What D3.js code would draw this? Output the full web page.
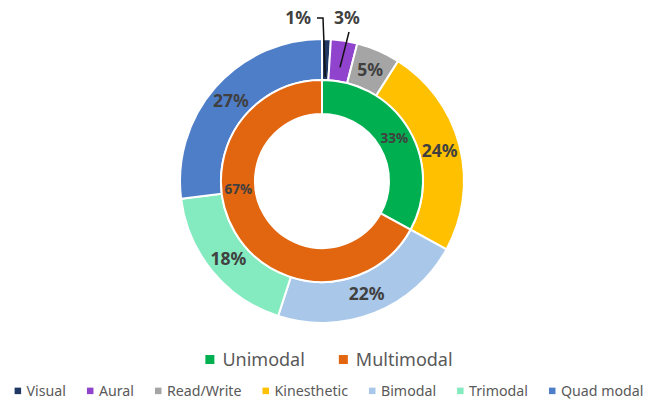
<!DOCTYPE html>
<html>
<head>
<meta charset="utf-8">
<script src="https://cdn.jsdelivr.net/npm/d3@7"></script>
<style>
  html, body { margin: 0; padding: 0; background: #fff; }
  svg { display: block; font-family: "Noto Sans", "Open Sans", sans-serif; }
</style>
</head>
<body>
<svg id="chart" width="653" height="405"></svg>
<script>
// data
const outerNames = ["Visual", "Aural", "Read/Write", "Kinesthetic", "Bimodal", "Trimodal", "Quad modal"];
const outerValues = [1, 3, 5, 24, 22, 18, 27];
const innerNames = ["Unimodal", "Multimodal"];
const innerValues = [33, 67];

const outerColors = ["#1f3864", "#9043cc", "#a5a5a5", "#ffc000", "#a9c8e9", "#84eabf", "#4f7ec9"];
const innerColors = ["#00b050", "#e2650f"];

const width = 653, height = 405;
const cx = 322, cy = 181;
const rOuter = 142, rMid = 101, rInner = 67;
const labelColor = "#404040";
const legendColor = "#595959";

// labels moved by hand in the original (offsets from the centre)
const callouts = {
  Visual: { label: [-11, -157], anchor: "end", leader: [[-5, -163], [1, -163]], endR: 104 },
  Aural: { label: [25, -157], anchor: "middle", leader: [[27, -149]], endR: 115 },
};
const innerLabelTurn = { Multimodal: 0.735 };

const svg = d3.select("#chart");
const g = svg.append("g").attr("transform", `translate(${cx},${cy})`);

const pie = d3.pie().sort(null).value((d) => d.value);
const outerData = pie(outerNames.map((n, i) => ({ name: n, value: outerValues[i], color: outerColors[i] })));
const innerData = pie(innerNames.map((n, i) => ({ name: n, value: innerValues[i], color: innerColors[i] })));

const outerArc = d3.arc().innerRadius(rMid).outerRadius(rOuter);
const innerArc = d3.arc().innerRadius(rInner).outerRadius(rMid);

// rings
g.append("g")
  .selectAll("path")
  .data(outerData)
  .join("path")
  .attr("d", outerArc)
  .attr("fill", (d) => d.data.color)
  .attr("stroke", "#fff")
  .attr("stroke-width", 2);

g.append("g")
  .selectAll("path")
  .data(innerData)
  .join("path")
  .attr("d", innerArc)
  .attr("fill", (d) => d.data.color)
  .attr("stroke", "#fff")
  .attr("stroke-width", 2);

const polar = (r, a) => [r * Math.sin(a), -r * Math.cos(a)];

// outer labels
g.append("g")
  .selectAll("g")
  .data(outerData)
  .join("g")
  .each(function (d) {
    const sel = d3.select(this);
    const c = callouts[d.data.name];
    const mid = (d.startAngle + d.endAngle) / 2;
    if (c) {
      const pts = c.leader.concat([polar(c.endR, mid)]);
      sel.append("path")
        .attr("d", d3.line()(pts))
        .attr("fill", "none")
        .attr("stroke", "#111")
        .attr("stroke-width", 1.5);
      sel.append("text")
        .attr("x", c.label[0])
        .attr("y", c.label[1])
        .attr("text-anchor", c.anchor)
        .attr("font-size", 17.5)
        .attr("font-weight", "bold")
        .attr("fill", labelColor)
        .text(d.data.value + "%");
    } else {
      const [x, y] = outerArc.centroid(d);
      sel.append("text")
        .attr("x", x)
        .attr("y", y)
        .attr("dy", "0.36em")
        .attr("text-anchor", "middle")
        .attr("font-size", 17.5)
        .attr("font-weight", "bold")
        .attr("fill", labelColor)
        .text(d.data.value + "%");
    }
  });

// inner labels
g.append("g")
  .selectAll("text")
  .data(innerData)
  .join("text")
  .attr("transform", (d) => {
    const turn = innerLabelTurn[d.data.name];
    const p = turn != null ? polar((rInner + rMid) / 2, turn * 2 * Math.PI) : innerArc.centroid(d);
    return `translate(${p[0]},${p[1]})`;
  })
  .attr("dy", "0.36em")
  .attr("text-anchor", "middle")
  .attr("font-size", 13.5)
  .attr("font-weight", "bold")
  .attr("fill", labelColor)
  .text((d) => d.data.value + "%");

// legends
function legendRow(names, colors, y, fontSize, box, textGap, itemGap) {
  const row = svg.append("g");
  let x = 0;
  names.forEach((n, i) => {
    const item = row.append("g").attr("transform", `translate(${x},0)`);
    item.append("rect")
      .attr("x", 0)
      .attr("y", -fontSize * 0.36 - box / 2)
      .attr("width", box)
      .attr("height", box)
      .attr("fill", colors[i]);
    const t = item.append("text")
      .attr("x", textGap)
      .attr("y", 0)
      .attr("font-size", fontSize)
      .attr("fill", legendColor)
      .text(n);
    x += textGap + t.node().getComputedTextLength() + itemGap;
  });
  const total = x - itemGap;
  row.attr("transform", `translate(${329 - total / 2},${y})`);
}

legendRow(innerNames, innerColors, 366, 18, 9, 17, 34);
legendRow(outerNames, outerColors, 396, 14.2, 6.5, 12, 21);
</script>
</body>
</html>
